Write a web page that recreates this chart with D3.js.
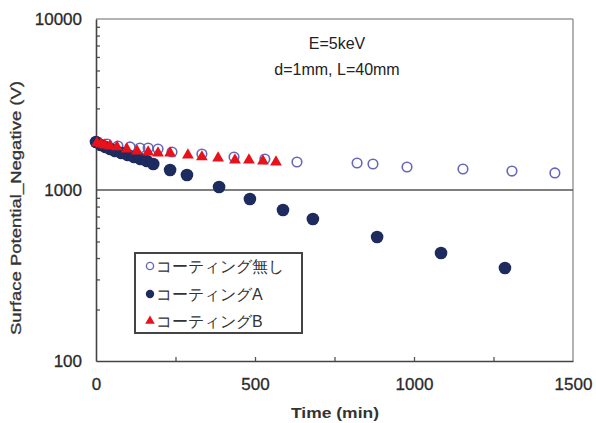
<!DOCTYPE html>
<html>
<head>
<meta charset="utf-8">
<script src="https://cdn.jsdelivr.net/npm/d3@7"></script>
<style>
  body { margin: 0; background: #fff; }
  svg text { font-family: "Liberation Sans", Arial, sans-serif; }
</style>
</head>
<body>
<svg id="chart" width="596" height="423"></svg>
<script>
// ---- data ----
const seriesNames = ["コーティング無し", "コーティングA", "コーティングB"];

const noneTime  = [3, 35, 69, 107, 138, 164, 195, 239, 333, 434, 531, 632, 821, 871, 978, 1154, 1308, 1443];
const noneValue = [1909, 1858, 1809, 1785, 1761, 1761, 1737, 1668, 1623, 1560, 1518, 1458, 1438, 1419, 1363, 1327, 1291, 1258];

const aTime  = [0, 15, 30, 45, 60, 80, 100, 120, 140, 160, 180, 233, 286, 387, 484, 588, 682, 884, 1085, 1286];
const aValue = [1909, 1833, 1785, 1737, 1691, 1646, 1602, 1560, 1518, 1478, 1419, 1309, 1224, 1041, 886, 764, 677, 531, 428, 350];

const bTime  = [3, 16, 28, 44, 66, 97, 129, 164, 195, 233, 289, 333, 384, 437, 481, 525, 566];
const bValue = [1884, 1858, 1833, 1809, 1785, 1737, 1691, 1668, 1646, 1646, 1602, 1560, 1539, 1498, 1498, 1478, 1458];

const xMajorTicks = [0, 500, 1000, 1500];
const xMinorTicks = [250, 500, 750, 1000, 1250];
const yMajorTicks = [100, 1000, 10000];
const gridValues = [1000];
const annotationLines = ["E=5keV", "d=1mm, L=40mm"];
const xTitle = "Time (min)";
const yTitle = "Surface Potential_Negative (V)";

// ---- layout ----
const svg = d3.select("#chart");
const L = 96, R = 573, T = 19, B = 361;

const x = d3.scaleLinear().domain([0, 1500]).range([L, R]);
const y = d3.scaleLog().domain([100, 10000]).range([B, T]);

const yMinorTicks = [];
[100, 1000].forEach(d => { for (let k = 2; k <= 9; k++) yMinorTicks.push(d * k); });

// frame: top & right borders
svg.append("line").attr("x1", L).attr("x2", R).attr("y1", T).attr("y2", T)
  .attr("stroke", "#9a9a9a").attr("stroke-width", 1.5);
svg.append("line").attr("x1", R).attr("x2", R).attr("y1", T).attr("y2", B)
  .attr("stroke", "#9a9a9a").attr("stroke-width", 1.5);

// gridline at 1000
svg.selectAll(".grid").data(gridValues).enter().append("line")
  .attr("x1", L).attr("x2", R).attr("y1", d => y(d)).attr("y2", d => y(d))
  .attr("stroke", "#555").attr("stroke-width", 1.6);

// minor ticks (inside)
const xMinorAxis = svg.append("g").attr("transform", `translate(0,${B})`)
  .call(d3.axisBottom(x).tickValues(xMinorTicks).tickSizeInner(-4).tickSizeOuter(0).tickFormat(""));
xMinorAxis.select(".domain").remove();
xMinorAxis.selectAll("line").attr("stroke", "#555").attr("stroke-width", 1.3);

const yMinorAxis = svg.append("g").attr("transform", `translate(${L},0)`)
  .call(d3.axisLeft(y).tickValues(yMinorTicks).tickSizeInner(-4).tickSizeOuter(0).tickFormat(""));
yMinorAxis.select(".domain").remove();
yMinorAxis.selectAll("line").attr("stroke", "#555").attr("stroke-width", 1.3);

// major axes with labels
const xAxis = svg.append("g").attr("transform", `translate(0,${B})`)
  .call(d3.axisBottom(x).tickValues(xMajorTicks).tickSize(0).tickPadding(17).tickFormat(d3.format("d")));
xAxis.select(".domain").attr("stroke", "#444").attr("stroke-width", 1.6);
xAxis.selectAll("text").attr("font-size", 17).attr("fill", "#2a2a2a")
  .attr("stroke", "#2a2a2a").attr("stroke-width", 0.3)
  .attr("font-family", "'Liberation Sans', Arial, sans-serif");

const yAxis = svg.append("g").attr("transform", `translate(${L},0)`)
  .call(d3.axisLeft(y).tickValues(yMajorTicks).tickSize(0).tickPadding(14).tickFormat(d3.format("d")));
yAxis.select(".domain").attr("stroke", "#444").attr("stroke-width", 1.6);
yAxis.selectAll("text").attr("font-size", 17).attr("fill", "#2a2a2a")
  .attr("stroke", "#2a2a2a").attr("stroke-width", 0.3)
  .attr("font-family", "'Liberation Sans', Arial, sans-serif");

// axis titles
svg.append("text").attr("x", 335).attr("y", 418).attr("text-anchor", "middle")
  .attr("font-size", 15).attr("font-weight", "bold").attr("fill", "#333")
  .attr("textLength", 88).attr("lengthAdjust", "spacingAndGlyphs")
  .text(xTitle);
svg.append("text").attr("transform", "translate(21,208) rotate(-90)")
  .attr("text-anchor", "middle").attr("font-size", 14).attr("fill", "#333")
  .attr("stroke", "#333").attr("stroke-width", 0.3)
  .attr("textLength", 254).attr("lengthAdjust", "spacingAndGlyphs")
  .text(yTitle);

// annotation
svg.selectAll(".anno").data(annotationLines).enter().append("text")
  .attr("x", 337).attr("y", (d, i) => 49 + i * 26).attr("text-anchor", "middle")
  .attr("font-size", 16).attr("fill", "#222").text(d => d);

// ---- series ----
const zip = (a, b) => a.map((t, i) => ({ t, v: b[i] }));
const noneData = zip(noneTime, noneValue);
const aData = zip(aTime, aValue);
const bData = zip(bTime, bValue);

const colNone = "#6667b8", colA = "#1d2b5e", colB = "#e8121b";

svg.append("g").selectAll("circle").data(noneData).enter().append("circle")
  .attr("cx", d => x(d.t)).attr("cy", d => y(d.v)).attr("r", 4.8)
  .attr("fill", "none").attr("stroke", colNone).attr("stroke-width", 1.6);

svg.append("g").selectAll("circle").data(aData).enter().append("circle")
  .attr("cx", d => x(d.t)).attr("cy", d => y(d.v)).attr("r", 6.3)
  .attr("fill", colA);

const tri = d3.symbol().type(d3.symbolTriangle).size(60);
svg.append("g").selectAll("path").data(bData).enter().append("path")
  .attr("d", tri).attr("transform", d => `translate(${x(d.t)},${y(d.v)})`)
  .attr("fill", colB);

// ---- legend ----
const lg = svg.append("g");
lg.append("rect").attr("x", 135).attr("y", 253).attr("width", 167).attr("height", 80)
  .attr("fill", "#fff").attr("stroke", "#444").attr("stroke-width", 2);
const rows = [266, 294, 321];
const lgItems = seriesNames.map((n, i) => ({ n, i, yy: rows[i] }));
lg.selectAll(".lt").data(lgItems).enter().append("text")
  .attr("x", 156).attr("y", d => d.yy + 6).attr("font-size", 16)
  .attr("font-family", "'Noto Sans CJK JP', sans-serif").attr("fill", "#333")
  .text(d => d.n);
lg.append("circle").attr("cx", 150).attr("cy", rows[0]).attr("r", 3.6)
  .attr("fill", "none").attr("stroke", colNone).attr("stroke-width", 1.4);
lg.append("circle").attr("cx", 150).attr("cy", rows[1]).attr("r", 4.2).attr("fill", colA);
lg.append("path").attr("d", d3.symbol().type(d3.symbolTriangle).size(40))
  .attr("transform", `translate(150,${rows[2]})`).attr("fill", colB);
</script>
</body>
</html>
